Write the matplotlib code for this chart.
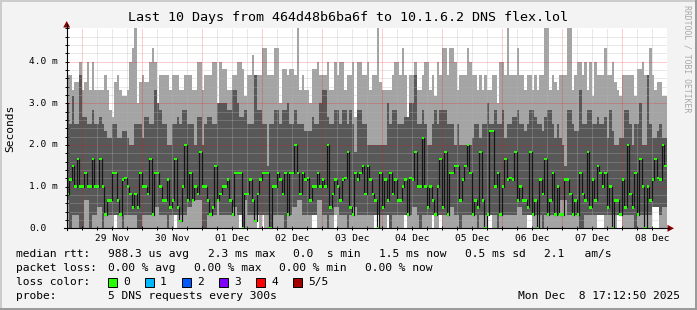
import numpy as np
import matplotlib
matplotlib.use("Agg")
import matplotlib.pyplot as plt
from matplotlib.patches import Polygon, Rectangle
from matplotlib.lines import Line2D
import matplotlib.transforms as mtrans

# ---------------- data (milliseconds), 240 hourly bins ----------------
first_bin_hour = -6.25          # hours relative to 29 Nov 00:00
axis_start_hour = -6.2
axis_end_hour = 233.8

# lowest ping (white below)
ping_min_ms = [
    0, 0, 0, 0, 0, 0, 0, 0, 0, 0, 0, 0, 0, 0, 0, 0, 0, 0, 0, 0.33,
    0, 0, 0, 0, 0, 0, 0, 0, 0, 0, 0, 0, 0, 0, 0, 0, 0, 0, 0, 0,
    0, 0, 0, 0.33, 0, 0, 0, 0, 0, 0, 0, 0, 0, 0, 0, 0, 0, 0, 0, 0,
    0, 0, 0, 0, 0, 0, 0, 0, 0, 0.33, 0, 0, 0, 0, 0, 0, 0.33, 0, 0.33, 0,
    0, 0, 0, 0, 0, 0, 0, 0, 0, 0, 0, 0, 0, 0, 0, 0, 0, 0, 0.33, 0.33,
    0, 0, 0, 0, 0, 0, 0, 0.33, 0, 0, 0, 0, 0, 0, 0, 0, 0, 0, 0, 0,
    0, 0, 0, 0.33, 0.33, 0, 0, 0, 0.33, 0, 0, 0, 0, 0, 0, 0.33, 0, 0, 0, 0,
    0, 0, 0, 0, 0, 0, 0.33, 0, 0, 0.33, 0, 0, 0, 0, 0, 0, 0, 0, 0, 0,
    0, 0, 0, 0, 0, 0, 0, 0, 0.33, 0.33, 0, 0, 0, 0, 0, 0, 0, 0, 0, 0,
    0, 0, 0, 0, 0.33, 0.33, 0, 0, 0, 0, 0, 0, 0, 0, 0, 0, 0, 0, 0, 0,
    0, 0, 0, 0, 0, 0, 0, 0, 0, 0, 0, 0, 0.33, 0.33, 0.33, 0, 0, 0, 0, 0,
    0.33, 0.33, 0, 0, 0, 0, 0, 0, 0, 0, 0, 0, 0, 0, 0.5, 0.5, 0.5, 0, 0, 0,
]

# second ping (top of lower light smoke)
ping_low_ms = [
    0.67, 0.0, 0.33, 0.33, 0.33, 0.0, 0.0, 0.67, 0.67, 0.0, 0.33, 0.33, 0.5, 0.5, 0.0, 0.33, 0.33, 0.33, 0.33, 0.33,
    0.33, 0.33, 0.0, 0.33, 0.33, 0.33, 0.33, 0.33, 0.0, 0.0, 0.33, 0.33, 0.33, 0.33, 0.33, 0.5, 0.5, 0.33, 0.33, 0.33,
    0.0, 0.33, 0.33, 0.33, 0.33, 0.33, 0.33, 0.33, 0.5, 0.5, 0.67, 0.67, 0.67, 0.67, 0.0, 0.0, 0.33, 0.33, 0.33, 0.33,
    0.67, 0.33, 0.33, 0.33, 0.33, 0.33, 0.5, 0.5, 0.33, 0.33, 0.0, 0.67, 0.33, 0.33, 0.33, 0.33, 0.33, 0.33, 0.33, 0.33,
    0.33, 0.0, 0.33, 0.33, 0.33, 0.33, 0.33, 0.0, 0.33, 0.33, 0.5, 0.5, 0.67, 0.67, 0.33, 0.33, 0.33, 0.33, 0.33, 0.33,
    0.67, 0.67, 0.33, 0.33, 0.0, 0.33, 0.33, 0.5, 0.5, 0.33, 0.33, 0.33, 0.0, 0.33, 0.5, 0.5, 0.33, 0.33, 0.33, 0.33,
    0.33, 0.33, 0.33, 0.33, 0.33, 0.33, 0.33, 0.33, 0.33, 0.0, 0.33, 0.33, 0.33, 0.33, 0.33, 0.33, 0.33, 0.33, 0.5, 0.5,
    0.33, 0.0, 0.33, 0.33, 0.33, 0.33, 0.33, 0.33, 0.33, 0.33, 0.33, 0.33, 0.33, 0.5, 0.5, 0.33, 0.33, 0.0, 0.33, 0.33,
    0.33, 0.33, 0.33, 0.33, 0.0, 0.33, 0.33, 0.33, 0.33, 0.33, 0.33, 0.33, 0.0, 0.33, 0.33, 0.33, 0.33, 0.33, 0.33, 0.33,
    0.5, 0.5, 0.33, 0.33, 0.33, 0.33, 0.33, 0.33, 0.33, 0.33, 0.0, 0.33, 0.33, 0.33, 0.33, 0.33, 0.33, 0.67, 0.67, 0.67,
    0.33, 0.33, 0.33, 0.33, 0.33, 0.0, 0.0, 0.33, 0.33, 0.33, 0.33, 0.33, 0.33, 0.33, 0.33, 0.33, 0.33, 0.33, 0.33, 0.33,
    0.33, 0.33, 0.33, 0.33, 0.33, 0.33, 0.33, 0.0, 0.33, 0.33, 0.33, 0.33, 0.33, 0.33, 0.5, 0.5, 0.5, 0.33, 0.5, 0.5,
]

median_ms = [
    0.83, 1.17, 1.5, 1.0, 1.67, 1.0, 1.0, 1.33, 1.0, 1.0, 1.67, 1.0, 1.0, 1.67, 1.0, 0.33, 0.67, 0.67, 1.33, 1.33,
    0.67, 0.33, 1.17, 1.2, 1.0, 0.83, 0.5, 0.83, 0.5, 1.33, 1.0, 1.0, 0.83, 1.67, 0.33, 1.33, 1.33, 1.0, 0.67, 0.67,
    1.17, 0.5, 0.67, 1.67, 0.5, 0.17, 1.0, 2.0, 0.67, 1.33, 0.67, 1.0, 0.83, 1.83, 1.0, 1.0, 0.67, 0.33, 0.5, 1.5,
    0.67, 0.83, 1.0, 1.0, 1.17, 0.67, 0.33, 1.33, 1.33, 1.33, 0.0, 0.83, 0.83, 1.17, 0.67, 0.17, 0.83, 1.17, 1.33, 1.33,
    1.33, 0.0, 1.0, 1.0, 1.33, 1.17, 0.83, 1.33, 0.33, 1.33, 1.33, 2.0, 1.33, 0.83, 1.33, 1.17, 1.2, 0.67, 1.0, 1.0,
    1.33, 1.0, 1.17, 1.0, 2.0, 0.5, 0.83, 1.17, 1.0, 0.67, 1.17, 1.2, 1.83, 0.5, 0.33, 1.33, 1.17, 1.33, 1.5, 0.83,
    1.5, 1.17, 0.83, 0.67, 0.0, 1.33, 0.5, 1.17, 0.67, 1.33, 0.83, 1.17, 0.67, 0.67, 1.0, 1.17, 0.33, 1.2, 1.17, 1.83,
    1.0, 1.0, 2.17, 1.0, 0.5, 1.0, 0.67, 0.33, 1.0, 1.67, 0.5, 1.83, 0.33, 1.33, 1.33, 1.5, 1.5, 0.67, 1.17, 1.5,
    2.0, 1.33, 0.33, 0.67, 0.5, 1.83, 0.67, 0.0, 0.33, 2.33, 2.33, 1.0, 1.33, 0.33, 1.0, 1.67, 1.17, 1.2, 1.17, 1.83,
    0.67, 1.0, 0.67, 0.67, 0.5, 1.83, 0.33, 0.67, 0.0, 1.17, 0.83, 1.67, 0.33, 0.67, 1.33, 0.33, 1.0, 0.33, 0.33, 1.17,
    1.17, 0.83, 0.33, 0.67, 0.33, 1.33, 0.83, 0.67, 1.83, 0.5, 1.17, 0.67, 1.5, 1.33, 1.0, 1.33, 0.5, 1.0, 0.0, 0.67,
    0.67, 0.33, 1.17, 0.5, 2.0, 0.83, 0.5, 1.33, 0.33, 1.67, 1.0, 0.0, 1.0, 0.67, 1.17, 1.67, 1.2, 1.17, 2.0, 1.5,
]

# fourth ping (top of dark smoke)
ping_high_ms = [
    3.0, 2.5, 3.17, 2.5, 2.5, 3.67, 2.67, 2.67, 2.5, 2.5, 2.83, 2.5, 2.5, 2.67, 2.5, 2.33, 2.17, 2.17, 2.5, 2.5,
    2.17, 2.17, 2.33, 2.33, 2.17, 2.0, 2.0, 2.5, 2.5, 2.5, 2.17, 2.67, 2.67, 2.5, 2.5, 3.33, 3.0, 2.83, 2.5, 2.5,
    2.0, 2.0, 2.5, 2.5, 2.67, 2.5, 2.83, 2.83, 2.5, 2.5, 2.5, 2.0, 2.67, 2.67, 2.0, 2.5, 2.67, 2.67, 2.5, 2.5,
    3.0, 3.0, 3.0, 3.0, 2.83, 2.83, 3.33, 3.33, 3.0, 2.67, 2.67, 2.83, 2.5, 2.5, 2.5, 3.67, 2.83, 2.83, 2.5, 2.5,
    1.5, 2.5, 2.5, 2.83, 2.83, 2.5, 2.83, 2.83, 3.0, 2.5, 2.5, 2.83, 2.5, 2.5, 2.5, 2.33, 2.33, 2.33, 2.67, 2.5,
    2.5, 3.0, 3.33, 3.33, 2.67, 2.5, 2.5, 2.83, 2.83, 2.5, 2.83, 2.83, 2.5, 2.83, 2.5, 1.83, 2.83, 2.83, 2.5, 2.5,
    2.0, 2.0, 2.0, 2.0, 2.0, 2.0, 2.0, 2.0, 3.0, 2.5, 2.83, 2.83, 2.5, 2.5, 2.5, 2.67, 2.67, 3.0, 3.0, 3.67,
    2.5, 2.5, 2.83, 2.5, 2.0, 2.0, 2.5, 2.83, 2.5, 2.83, 2.83, 2.83, 2.5, 2.5, 2.5, 2.0, 2.5, 2.0, 2.0, 2.0,
    2.0, 2.0, 2.17, 2.5, 2.5, 2.17, 2.5, 2.5, 3.0, 2.5, 2.5, 2.83, 2.5, 2.5, 2.83, 2.17, 2.5, 2.5, 2.67, 2.67,
    2.83, 2.5, 2.5, 2.33, 2.5, 2.83, 2.83, 2.67, 2.5, 2.5, 2.33, 2.67, 2.83, 2.83, 2.5, 2.17, 2.5, 2.17, 2.0, 1.5,
    2.83, 2.83, 2.5, 2.33, 2.33, 3.33, 2.5, 2.5, 2.83, 2.83, 2.5, 2.5, 2.67, 2.5, 2.5, 2.67, 2.17, 2.83, 2.33, 2.0,
    2.0, 2.17, 2.17, 2.83, 2.83, 2.5, 2.0, 2.5, 2.5, 3.0, 2.0, 2.0, 3.67, 2.5, 2.17, 2.17, 2.33, 2.5, 2.17, 2.17,
]

# highest ping (top of upper light smoke)
ping_max_ms = [
    3.67, 3.67, 3.33, 3.5, 3.5, 4.0, 3.33, 3.5, 4.0, 3.33, 4.0, 3.33, 3.33, 3.33, 3.33, 3.67, 3.33, 2.83, 2.67, 3.5,
    3.67, 3.33, 3.17, 3.17, 3.33, 4.0, 4.33, 4.8, 3.0, 3.5, 3.67, 3.5, 3.5, 4.0, 4.33, 4.0, 3.0, 3.67, 3.67, 3.67,
    3.67, 3.33, 3.67, 3.67, 3.67, 3.33, 3.33, 3.67, 3.67, 3.67, 3.33, 3.33, 4.0, 4.0, 3.33, 3.67, 3.67, 3.67, 4.0, 4.0,
    3.0, 4.0, 3.83, 3.83, 3.33, 3.33, 3.67, 3.67, 4.0, 4.0, 3.83, 3.17, 3.67, 3.67, 4.17, 3.67, 3.67, 3.67, 4.33, 4.33,
    3.67, 3.67, 3.67, 4.33, 4.33, 3.0, 3.83, 3.83, 3.67, 3.83, 3.83, 3.67, 4.8, 3.33, 3.67, 3.33, 3.33, 3.0, 3.83, 3.83,
    4.0, 3.67, 3.67, 3.67, 4.0, 3.33, 3.33, 4.0, 3.67, 4.0, 4.0, 3.33, 3.67, 3.67, 4.0, 2.67, 4.0, 4.0, 3.67, 3.67,
    4.0, 3.33, 3.67, 3.67, 4.8, 3.5, 3.33, 3.33, 3.33, 3.33, 3.67, 4.0, 4.0, 3.67, 4.33, 3.67, 2.67, 3.67, 3.67, 4.0,
    3.33, 3.33, 3.67, 4.0, 4.0, 3.33, 3.67, 3.17, 4.0, 3.67, 4.33, 4.33, 3.67, 4.33, 4.33, 4.0, 3.33, 3.67, 3.67, 3.67,
    4.33, 4.0, 3.67, 3.67, 3.33, 3.67, 3.33, 3.67, 3.33, 3.33, 3.67, 3.67, 3.0, 4.0, 4.0, 3.67, 4.8, 3.67, 3.67, 3.67,
    4.33, 3.67, 3.67, 3.33, 3.67, 3.67, 3.33, 3.67, 3.33, 3.67, 3.67, 4.8, 4.8, 3.33, 3.67, 3.5, 3.33, 3.67, 3.67, 3.67,
    4.8, 4.8, 3.33, 3.67, 4.0, 4.0, 3.67, 4.0, 3.33, 4.0, 3.17, 4.0, 3.67, 3.67, 3.67, 4.33, 3.67, 3.67, 4.0, 3.5,
    3.33, 3.17, 3.67, 3.67, 3.67, 3.67, 3.67, 3.17, 3.83, 3.83, 4.0, 3.67, 3.67, 4.33, 3.67, 3.33, 3.5, 3.5, 3.17, 3.17,
]

day_labels = ["29 Nov", "30 Nov", "01 Dec", "02 Dec", "03 Dec",
              "04 Dec", "05 Dec", "06 Dec", "07 Dec", "08 Dec"]
y_ticks = [0.0, 1.0, 2.0, 3.0, 4.0]
y_tick_labels = ["0.0", "1.0 m", "2.0 m", "3.0 m", "4.0 m"]

title = "Last 10 Days from 464d48b6ba6f to 10.1.6.2 DNS flex.lol"
loss_labels = ["0", "1", "2", "3", "4", "5/5"]
loss_colors = ["#26ff00", "#00b8ff", "#0059ff", "#7e00ff", "#ff0000", "#a00000"]

# ---------------- figure ----------------
W, H = 697, 310
MONO = "DejaVu Sans Mono"
LIGHT = "#a4a4a4"
DARK = "#585858"

fig = plt.figure(figsize=(W / 100, H / 100), dpi=100, facecolor="#f3f3f3")


def fx(x):
    return x / W


def fy(y):
    return 1 - y / H


AX_L, AX_R, AX_T, AX_B = 66.7, 666.7, 28.3, 228.3
ax = fig.add_axes([fx(AX_L), fy(AX_B), (AX_R - AX_L) / W, (AX_B - AX_T) / H])
ax.set_facecolor("white")
ax.set_xlim(axis_start_hour, axis_end_hour)
ax.set_ylim(0, 4.8)
for s in ax.spines.values():
    s.set_visible(False)

hours = first_bin_hour + np.arange(len(median_ms))
p1 = np.array(ping_min_ms)
p2 = np.array(ping_low_ms)
p3 = np.array(median_ms)
p4 = np.array(ping_high_ms)
p5 = np.array(ping_max_ms)

kw = dict(width=1.0, align="edge", linewidth=0, antialiased=False)
ax.bar(hours, p2 - p1, bottom=p1, color=LIGHT, zorder=1, **kw)
ax.bar(hours, p4 - p2, bottom=p2, color=DARK, zorder=1, **kw)
ax.bar(hours, p5 - p4, bottom=p4, color=LIGHT, zorder=1, **kw)

# grid (drawn over the smoke, rrdtool style)
dot = (0, (1, 1))
for yv in np.arange(0.2, 4.8, 0.2):
    if abs(yv - round(yv)) < 1e-6:
        ax.axhline(yv, color="#ff0000", alpha=0.4, lw=0.72, ls=dot, zorder=3)
    else:
        ax.axhline(yv, color="#b4b4b4", alpha=0.6, lw=0.72, ls=dot, zorder=3)
for hv in range(-6, 234, 6):
    if hv % 24 == 0:
        ax.axvline(hv, color="#ff0000", alpha=0.4, lw=0.72, ls=dot, zorder=3)
    else:
        ax.axvline(hv, color="#b4b4b4", alpha=0.6, lw=0.72, ls=dot, zorder=3)

# median: black step line + green loss-colour marks
edges = np.append(hours, hours[-1] + 1)
ax.step(edges, np.append(p3, p3[-1]), where="post", color="#151515", lw=0.85, zorder=4)
ax.bar(hours, 0.055, bottom=p3 - 0.0275, color=loss_colors[0], zorder=5, **kw)

# ticks
ax.set_xticks(np.arange(-6, 234, 6))
ax.set_yticks(np.arange(0, 4.81, 0.2))
ax.tick_params(axis="both", direction="inout", length=3, width=0.72, color="#000000",
               labelbottom=False, labelleft=False)

# axes lines and arrows (pixel coordinates)
fig.add_artist(Line2D([fx(AX_L), fx(AX_L)], [fy(AX_B + 2), fy(AX_T - 4)], color="black", lw=0.8))
fig.add_artist(Line2D([fx(AX_L - 3), fx(AX_R + 2)], [fy(AX_B), fy(AX_B)], color="black", lw=0.8))
arrow_col = "#8b0000"
fig.add_artist(Polygon([[fx(AX_L), fy(21)], [fx(AX_L - 3.5), fy(27.5)], [fx(AX_L + 3.5), fy(27.5)]],
                       closed=True, color=arrow_col, lw=0))
fig.add_artist(Polygon([[fx(674), fy(AX_B)], [fx(667.5), fy(AX_B - 3.5)], [fx(667.5), fy(AX_B + 3.5)]],
                       closed=True, color=arrow_col, lw=0))

# tick labels
tx = mtrans.blended_transform_factory(ax.transData, fig.transFigure)
for i, lab in enumerate(day_labels):
    ax.text(12 + 24 * i, fy(238.5), lab, transform=tx, ha="center", va="center",
            fontsize=6.8, family=MONO, color="#000000")
ty = mtrans.blended_transform_factory(fig.transFigure, ax.transData)
for v, lab in zip(y_ticks, y_tick_labels):
    fig.text(fx(29), v, lab, transform=ty, ha="left", va="center",
             fontsize=6.8, family=MONO, color="#000000")

# title, axis label, credit
fig.text(fx(348.5), fy(17), title, ha="center", va="center", fontsize=9.6, family=MONO)
fig.text(fx(10.5), fy(128), "Seconds", rotation=90, ha="center", va="center",
         fontsize=8.1, family=MONO)
fig.text(fx(687), fy(59), "RRDTOOL / TOBI OETIKER", rotation=270, ha="center", va="center",
         fontsize=5.9, family=MONO, color="#a8a8a8")

# legend
LF = 8.1
rows = {
    254: [(16, "median rtt:"), (107.6, "988.3 us avg"), (207.6, "2.3 ms max"),
          (293, "0.0  s min"), (379, "1.5 ms now"), (465, "0.5 ms sd"), (544, "2.1   am/s")],
    268: [(16, "packet loss:"), (107.6, "0.00 % avg"), (194, "0.00 % max"),
          (279, "0.00 % min"), (365, "0.00 % now")],
    282: [(16, "loss color:")],
    296: [(16, "probe:"), (107.6, "5 DNS requests every 300s")],
}
for y, items in rows.items():
    for x, s in items:
        fig.text(fx(x), fy(y), s, ha="left", va="center", fontsize=LF, family=MONO)
fig.text(fx(680), fy(296), "Mon Dec  8 17:12:50 2025", ha="right", va="center",
         fontsize=LF, family=MONO)

for i, (lab, col) in enumerate(zip(loss_labels, loss_colors)):
    bx = 108 + 37 * i
    fig.add_artist(Rectangle((fx(bx), fy(286.5)), 8.5 / W, 9 / H, facecolor=col,
                             edgecolor="black", lw=0.7))
    fig.text(fx(bx + 15), fy(282), lab, ha="left", va="center", fontsize=LF, family=MONO)

# 3D frame
fig.add_artist(Line2D([0, 1], [fy(0.8), fy(0.8)], color="#cbcbcb", lw=1.4))
fig.add_artist(Line2D([fx(0.8), fx(0.8)], [0, 1], color="#cbcbcb", lw=1.4))
fig.add_artist(Line2D([0, 1], [fy(309.2), fy(309.2)], color="#999999", lw=1.4))
fig.add_artist(Line2D([fx(696.2), fx(696.2)], [0, 1], color="#999999", lw=1.4))

fig.savefig("out.png", dpi=100, facecolor=fig.get_facecolor())
